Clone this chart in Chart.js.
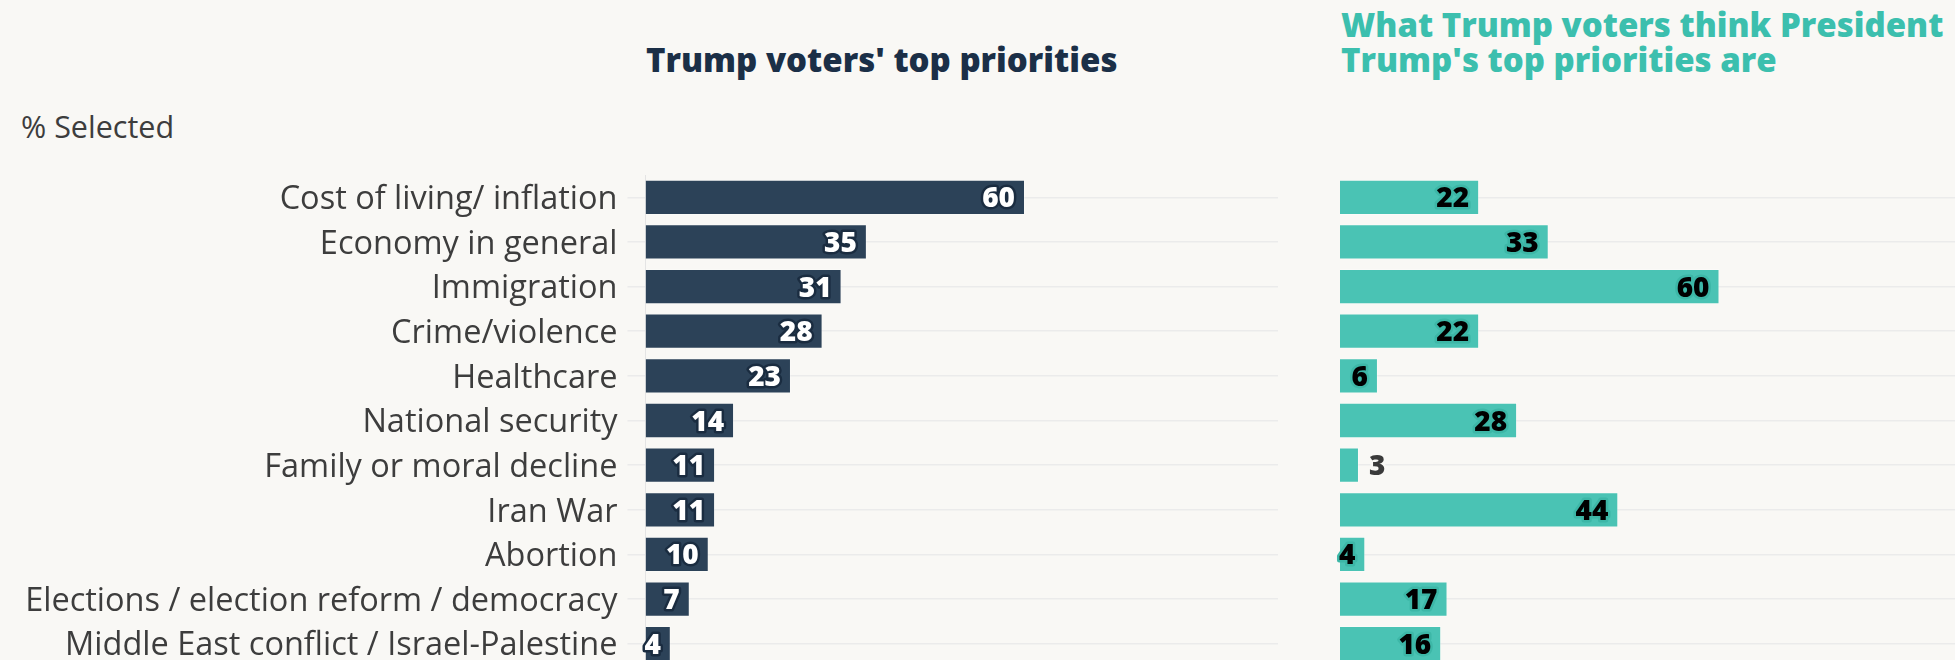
<!DOCTYPE html>
<html>
<head>
<meta charset="utf-8">
<script src="https://cdn.jsdelivr.net/npm/chart.js@4"></script>
<style>
  html, body { margin: 0; padding: 0; background: #f9f8f5; }
  .wrap { position: relative; width: 1955px; height: 660px; overflow: hidden; background: #f9f8f5; font-family: "Open Sans", Lato, sans-serif; }
  .title { position: absolute; font-weight: 800; font-size: 33px; line-height: 35px; white-space: nowrap; }
  #t-left { left: 646px; top: 41.5px; color: #1b2f47; }
  #t-right { left: 1341px; top: 6.5px; color: #3cbfae; }
  #unit { position: absolute; left: 21px; top: 112.5px; font-size: 30.5px; line-height: 27px; color: #3d3d3d; }
  canvas { position: absolute; top: 0; }
  #left { left: 0; }
  #right { left: 1300px; }
</style>
</head>
<body>
<div class="wrap">
  <div class="title" id="t-left">Trump voters' top priorities</div>
  <div class="title" id="t-right">What Trump voters think President<br>Trump's top priorities are</div>
  <div id="unit">% Selected</div>
  <canvas id="left" width="1300" height="700"></canvas>
  <canvas id="right" width="700" height="700"></canvas>
</div>
<script>
const categories = [
  "Cost of living/ inflation",
  "Economy in general",
  "Immigration",
  "Crime/violence",
  "Healthcare",
  "National security",
  "Family or moral decline",
  "Iran War",
  "Abortion",
  "Elections / election reform / democracy",
  "Middle East conflict / Israel-Palestine",
];
const voterPriorities = [60, 35, 31, 28, 23, 14, 11, 11, 10, 7, 4];
const trumpPriorities = [22, 33, 60, 22, 6, 28, 3, 44, 4, 17, 16];

const NAVY = "#2c4258";
const TEAL = "#4ac3b4";
const BG = "#f9f8f5";
const FONT = "Open Sans";

// value labels: inside the bar end, or just outside when the bar is too short
const valueLabels = {
  id: "valueLabels",
  afterDatasetsDraw(chart, args, opts) {
    const { ctx } = chart;
    const meta = chart.getDatasetMeta(0);
    const values = chart.data.datasets[0].data;
    ctx.save();
    ctx.font = `800 28px "${FONT}"`;
    ctx.lineJoin = "round";
    ctx.textBaseline = "alphabetic";
    meta.data.forEach((bar, i) => {
      const v = values[i];
      const inside = v > 3;
      const x = inside ? bar.x - 10 : bar.x + 10;
      ctx.textAlign = inside ? "right" : "left";
      ctx.lineWidth = 5;
      ctx.strokeStyle = inside ? opts.halo : BG;
      ctx.fillStyle = inside ? opts.color : "#3a3a3a";
      ctx.strokeText(String(v), x, bar.y + 10);
      ctx.fillText(String(v), x, bar.y + 10);
    });
    ctx.restore();
  },
};

function draw() {
  new Chart(document.getElementById("left"), {
    type: "bar",
    data: {
      labels: categories,
      datasets: [
        {
          data: voterPriorities,
          backgroundColor: NAVY,
          borderColor: "rgba(255,255,255,0.25)",
          borderWidth: 1,
          barPercentage: 0.79,
          categoryPercentage: 1,
        },
      ],
    },
    options: {
      indexAxis: "y",
      responsive: false,
      animation: false,
      layout: { padding: { top: 175, bottom: 34, right: 22, left: 0 } },
      plugins: {
        legend: { display: false },
        tooltip: { enabled: false },
        valueLabels: { color: "#ffffff", halo: "#1a2c40" },
      },
      scales: {
        x: { display: false, min: 0, max: 100 },
        y: {
          afterFit: (s) => {
            s.width = 645.5;
          },
          grid: { offset: false, color: "#ebebeb", lineWidth: 1.5, tickLength: 18 },
          border: { display: true, color: "#e4e4e4" },
          ticks: {
            padding: 10,
            labelOffset: 2.5,
            color: "#3d3d3d",
            font: { family: FONT, size: 32.5 },
          },
        },
      },
    },
    plugins: [valueLabels],
  });

  new Chart(document.getElementById("right"), {
    type: "bar",
    data: {
      labels: categories,
      datasets: [
        {
          data: trumpPriorities,
          backgroundColor: TEAL,
          borderColor: "rgba(255,255,255,0.3)",
          borderWidth: 1,
          barPercentage: 0.79,
          categoryPercentage: 1,
        },
      ],
    },
    options: {
      indexAxis: "y",
      responsive: false,
      animation: false,
      layout: { padding: { top: 175, bottom: 34, right: 27.5, left: 0 } },
      plugins: {
        legend: { display: false },
        tooltip: { enabled: false },
        valueLabels: { color: "#000000", halo: "#3db7a7" },
      },
      scales: {
        x: { display: false, min: 0, max: 100 },
        y: {
          afterFit: (s) => {
            s.width = 40;
          },
          grid: { offset: false, color: "#ebebeb", lineWidth: 1.5, drawTicks: false },
          border: { display: false },
          ticks: { display: false },
        },
      },
    },
    plugins: [valueLabels],
  });
}

Promise.all([
  document.fonts.load(`32.5px "${FONT}"`),
  document.fonts.load(`800 28px "${FONT}"`),
  document.fonts.load(`800 33px "${FONT}"`),
]).then(draw, draw);
</script>
</body>
</html>
